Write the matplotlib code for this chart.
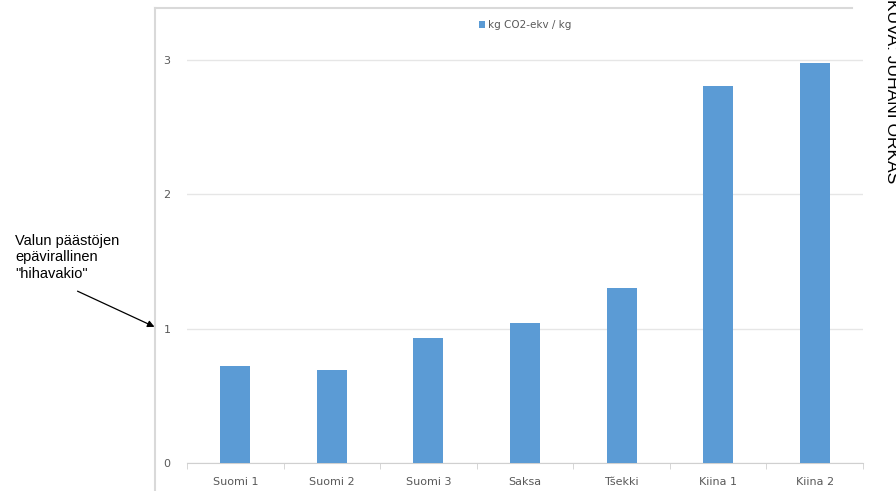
import matplotlib.pyplot as plt
from matplotlib.lines import Line2D

# data
maat = ["Suomi 1", "Suomi 2", "Suomi 3", "Saksa", "Tšekki", "Kiina 1", "Kiina 2"]
paastot = [0.72, 0.69, 0.93, 1.04, 1.30, 2.81, 2.98]
y_ticks = [0, 1, 2, 3]

bar_color = "#5B9BD5"
grey_txt = "#595959"

fig = plt.figure(figsize=(8.96, 4.91), dpi=100)
ax = fig.add_axes([187 / 896, 1 - 463 / 491, 676 / 896, (463 - 19.8) / 491])

x = list(range(len(maat)))
ax.bar(x, paastot, width=0.31, color=bar_color, label="kg CO2-ekv / kg", zorder=3)

ax.set_xlim(-0.5, len(maat) - 0.5)
ax.set_ylim(0, 3.3)
ax.set_yticks(y_ticks)
ax.set_yticklabels([str(t) for t in y_ticks])
ax.grid(axis="y", color="#e6e6e6", linewidth=1, zorder=0)

ax.set_xticks(x)
ax.set_xticklabels(maat)
ax.set_xticks([i + 0.5 for i in range(-1, len(maat))], minor=True)
ax.tick_params(axis="x", which="major", length=0, pad=10, labelsize=8, labelcolor=grey_txt)
ax.tick_params(axis="x", which="minor", length=4, color="#d0d0d0")
ax.tick_params(axis="y", length=0, pad=12, labelsize=8, labelcolor=grey_txt)

for s in ["top", "right", "left"]:
    ax.spines[s].set_visible(False)
ax.spines["bottom"].set_color("#d0d0d0")

ax.legend(loc="upper center", bbox_to_anchor=(0.5, 1.02), frameon=False,
          fontsize=7.5, labelcolor=grey_txt, handlelength=0.6, handleheight=0.6,
          handletextpad=0.3)

# outer chart frame
fig.add_artist(Line2D([155 / 896, 155 / 896], [0, 1 - 8 / 491], color="#d9d9d9", lw=1.5))
fig.add_artist(Line2D([155 / 896, 852 / 896], [1 - 8 / 491, 1 - 8 / 491], color="#d9d9d9", lw=1.5))

# annotation
fig.text(15 / 896, 1 - 234 / 491, 'Valun päästöjen\nepävirallinen\n"hihavakio"',
         fontsize=10.5, family="Liberation Sans", va="top", ha="left", linespacing=1.22)
fig.add_artist(plt.Annotation("", xy=(157 / 896, 1 - 328 / 491), xytext=(75 / 896, 1 - 290 / 491),
                              xycoords="figure fraction", textcoords="figure fraction",
                              arrowprops=dict(arrowstyle="-|>", color="black", lw=0.9,
                                              mutation_scale=10)))

fig.text(884 / 896, 1.003, "KUVA: JUHANI ORKAS", rotation=270, fontsize=12.5,
         family="Liberation Sans", ha="left", va="top")

plt.savefig("out.png", dpi=100)
